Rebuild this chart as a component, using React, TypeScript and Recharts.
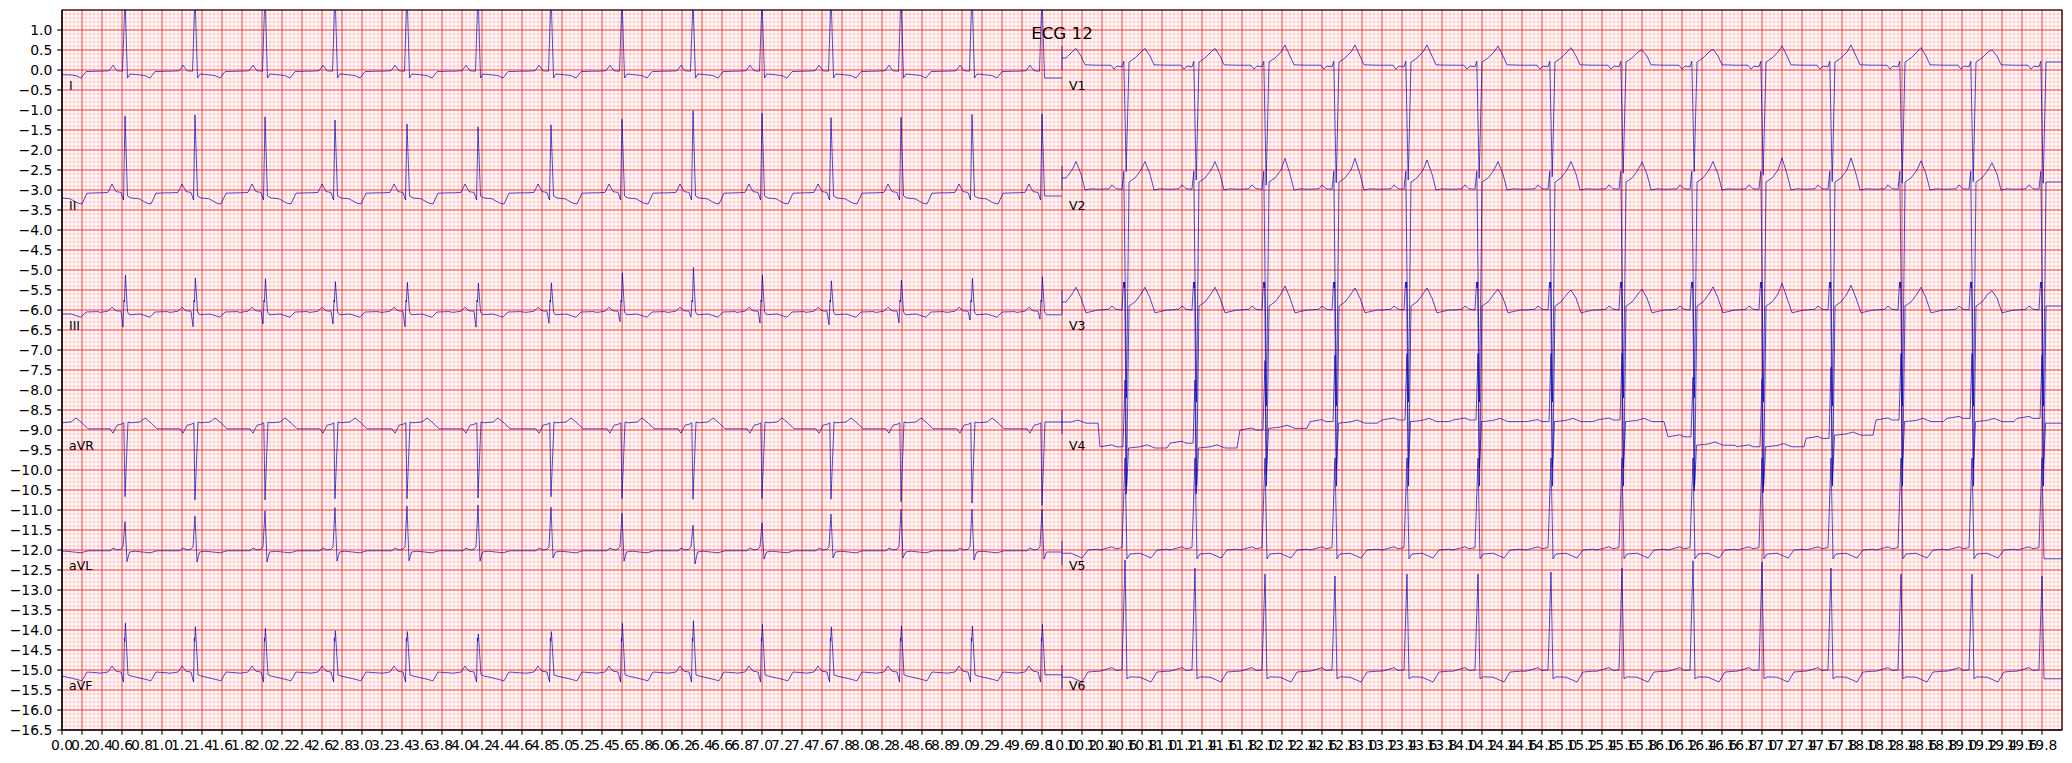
import React from 'react';
import { LineChart, Line, XAxis, YAxis, CartesianGrid, ReferenceDot, ReferenceArea } from 'recharts';

type Knot = [number, number | string];

// ---- layout of the 12 leads (2 columns x 6 rows) ----
const LEAD_NAMES = ['I', 'II', 'III', 'aVR', 'aVL', 'aVF', 'V1', 'V2', 'V3', 'V4', 'V5', 'V6'];
const LEAD_ROW_OFFSETS = [0, -3, -6, -9, -12, -15, 0, -3, -6, -9, -12, -15];
const LEAD_COL_OFFSETS = [0, 0, 0, 0, 0, 0, 10, 10, 10, 10, 10, 10];

// ---- beat timing (seconds, read from R peaks) ----
const BEAT_TIMES = [0.63, 1.33, 2.03, 2.73, 3.45, 4.16, 4.89, 5.6, 6.31, 7.0, 7.69, 8.39, 9.1, 9.8];
const PRE_BEAT_TIME = -0.06;
const LAST_BEAT_TAIL = 0.045;
const SIGNAL_END = 10;

// ---- per-lead beat shapes: [time from R (s), value (mV) or per-beat key] ----
const I_SHAPE: Knot[] = [[-0.25, -0.03], [-0.16, -0.02], [-0.12, 0.12], [-0.08, -0.02], [-0.025, -0.03], [0, 'R'], [0.025, -0.2], [0.05, -0.1], [0.13, -0.12], [0.2, -0.14], [0.25, -0.2], [0.3, -0.04], [0.42, -0.03]];
const I_R = [1.8, 1.9, 1.95, 2.0, 2.0, 2.0, 1.95, 1.85, 1.75, 1.8, 1.9, 1.95, 1.95, 1.95];

const II_SHAPE: Knot[] = [[-0.25, -0.07], [-0.17, -0.06], [-0.13, 0.15], [-0.09, -0.04], [-0.04, -0.06], [-0.015, -0.25], [0, 'R'], [0.025, -0.15], [0.06, -0.2], [0.14, -0.22], [0.22, -0.33], [0.26, -0.35], [0.31, -0.08], [0.42, -0.07]];
const II_R = [1.85, 1.88, 1.83, 1.75, 1.65, 1.58, 1.63, 1.77, 1.98, 1.92, 1.81, 1.82, 1.89, 1.9];

const III_SHAPE: Knot[] = [[-0.25, -0.06], [-0.17, -0.03], [-0.13, 0.07], [-0.09, -0.02], [-0.04, -0.03], [-0.02, 'Q'], [-0.01, 0.25], [-0.006, 0.2], [0.004, 'R'], [0.025, -0.05], [0.045, -0.12], [0.15, -0.1], [0.25, -0.18], [0.3, -0.05], [0.42, -0.04]];
const III_Q = [-0.43, -0.42, -0.35, -0.35, -0.42, -0.43, -0.33, -0.29, -0.18, -0.33, -0.37, -0.32, -0.25, -0.23];
const III_R = [0.87, 0.8, 0.78, 0.71, 0.69, 0.67, 0.68, 0.93, 1.06, 0.87, 0.73, 0.75, 0.79, 0.83];

const AVR_SHAPE: Knot[] = [[-0.25, 0.03], [-0.15, 0.03], [-0.12, -0.08], [-0.08, 0.12], [-0.03, 0.15], [-0.012, 0.18], [0, 'R'], [0.03, 0.2], [0.06, 0.18], [0.15, 0.2], [0.2, 0.3], [0.26, 0.18], [0.32, 0.03], [0.42, 0.03]];
const AVR_R = [-1.67, -1.75, -1.75, -1.72, -1.72, -1.7, -1.67, -1.71, -1.73, -1.71, -1.73, -1.79, -1.83, -1.88];

const AVL_SHAPE: Knot[] = [[-0.25, -0.02], [-0.15, -0.02], [-0.12, 0.05], [-0.08, 0.0], [-0.04, 0.02], [-0.02, 0.08], [0, 'R'], [0.02, 'S'], [0.045, -0.05], [0.1, -0.03], [0.25, -0.07], [0.32, -0.02], [0.42, -0.02]];
const AVL_R = [0.71, 0.85, 0.98, 1.06, 1.1, 1.125, 1.07, 0.92, 0.62, 0.68, 0.9, 1.02, 1.02, 1.02];
const AVL_S = [-0.29, -0.3, -0.3, -0.28, -0.27, -0.28, -0.2, -0.28, -0.35, -0.23, -0.2, -0.2, -0.25, -0.23];

const AVF_SHAPE: Knot[] = [[-0.25, -0.08], [-0.17, -0.05], [-0.13, 0.1], [-0.09, -0.03], [-0.04, -0.05], [-0.015, -0.3], [-0.006, 0.8], [-0.003, 0.72], [0.004, 'R'], [0.03, -0.12], [0.06, -0.15], [0.15, -0.2], [0.26, -0.27], [0.31, -0.05], [0.42, -0.07]];
const AVF_R = [1.17, 1.08, 1.04, 0.98, 0.96, 0.9, 0.96, 1.17, 1.23, 1.14, 1.08, 1.1, 1.1, 1.14];

const V1_SHAPE: Knot[] = [[-0.25, 0.12], [-0.14, 0.12], [-0.11, 0.02], [-0.08, 0.1], [-0.03, 0.08], [-0.012, 0.22], [0.012, 'S'], [0.04, 0.2], [0.1, 0.3], [0.16, 0.45], [0.2, 'T'], [0.25, 0.35], [0.29, 0.13], [0.42, 0.12]];
const V1_S = [-2.54, -2.75, -2.875, -2.82, -2.75, -2.71, -2.67, -2.58, -2.54, -2.63, -2.79, -2.83, -2.79, -2.83];
const V1_T = [0.54, 0.54, 0.625, 0.625, 0.625, 0.6, 0.56, 0.5, 0.52, 0.6, 0.625, 0.56, 0.5, 0.5];

const V2_SHAPE: Knot[] = [[-0.25, 0.02], [-0.16, 0.03], [-0.13, 0.13], [-0.09, 0.03], [-0.03, 0.02], [-0.012, 0.47], [0.015, 'S'], [0.04, 0.2], [0.1, 0.3], [0.16, 0.5], [0.2, 'T'], [0.25, 0.4], [0.29, 0.0], [0.35, 0.03], [0.42, 0.02]];
const V2_S = [-5.2, -5.3, -5.4, -5.4, -5.3, -5.3, -5.3, -5.2, -5.2, -5.3, -5.4, -5.4, -5.4, -5.4];
const V2_T = [0.71, 0.71, 0.79, 0.79, 0.75, 0.71, 0.71, 0.7, 0.71, 0.8, 0.8, 0.73, 0.68, 0.68];

const V3_SHAPE: Knot[] = [[-0.25, 0.0], [-0.16, 0.02], [-0.13, 0.1], [-0.09, 0.02], [-0.03, 0.0], [-0.015, 0.7], [-0.008, 0.55], [-0.003, 0.7], [0.015, -4.4], [0.04, 0.1], [0.1, 0.2], [0.16, 0.4], [0.2, 'T'], [0.25, 0.3], [0.3, -0.07], [0.42, 0.0]];
const V3_T = [0.57, 0.57, 0.6, 0.55, 0.55, 0.52, 0.5, 0.52, 0.58, 0.67, 0.62, 0.57, 0.48, 0.48];

const V4_SHAPE: Knot[] = [[-0.25, 0.0], [-0.13, 0.05], [-0.09, 0.0], [-0.02, 0.0], [0, 1.7], [0.012, -1.15], [0.02, -0.85], [0.035, 0.0], [0.15, 0.03], [0.22, 0.08], [0.3, 0.0], [0.42, 0.0]];
const V4_PRE_BASE = [-0.42, -0.33, 0.0, 0.21, 0.25, 0.25, 0.21, 0.25, -0.17, -0.42, -0.21, 0.25, 0.29, 0.29];
const V4_POST_BASE = [-0.45, -0.45, 0.04, 0.17, 0.21, 0.21, 0.21, 0.21, -0.38, -0.42, -0.13, 0.21, 0.21, 0.17];
const V4_START_BASE = 0.17;

const V5_SHAPE: Knot[] = [[-0.25, 0.0], [-0.13, 0.08], [-0.09, 0.03], [-0.03, 0.06], [0, 2.3], [0.02, -0.22], [0.05, -0.1], [0.15, -0.08], [0.26, -0.2], [0.32, 0.0], [0.42, 0.02]];

const V6_SHAPE: Knot[] = [[-0.25, -0.03], [-0.13, 0.06], [-0.09, -0.01], [-0.03, 0.0], [0, 'R'], [0.02, -0.22], [0.05, -0.17], [0.15, -0.18], [0.26, -0.3], [0.32, -0.05], [0.42, -0.03]];
const V6_R = [2.75, 2.55, 2.4, 2.35, 2.4, 2.4, 2.45, 2.55, 2.73, 2.7, 2.55, 2.4, 2.4, 2.35];

// ---- tick labels ----
const X_MAJOR_TICKS = Array.from({ length: 100 }, (_, i) => Math.round(i * 2) / 10);
const X_MINOR_TICKS = Array.from({ length: 501 }, (_, i) => Math.round(i * 4) / 100);
const Y_MAJOR_TICKS = Array.from({ length: 36 }, (_, i) => -16.5 + i * 0.5);
const Y_MINOR_TICKS = Array.from({ length: 181 }, (_, i) => Math.round((-16.5 + i * 0.1) * 10) / 10);
const X_GRID_MAJOR = Array.from({ length: 101 }, (_, i) => Math.round(i * 2) / 10);
const Y_GRID_MAJOR = Array.from({ length: 37 }, (_, i) => -16.5 + i * 0.5);

const TITLE = 'ECG 12';
const LINE_COLOR = '#0000b3';
const MAJOR_GRID = '#ff0000';
const MINOR_GRID = '#ffb3b3';
const FONT = '"DejaVu Sans", sans-serif';

type Spec = { shape: Knot[]; beats: Record<string, number[]>; pre?: number[]; post?: number[]; startBase?: number };

const LEAD_SPECS: Spec[] = [
  { shape: I_SHAPE, beats: { R: I_R } },
  { shape: II_SHAPE, beats: { R: II_R } },
  { shape: III_SHAPE, beats: { Q: III_Q, R: III_R } },
  { shape: AVR_SHAPE, beats: { R: AVR_R } },
  { shape: AVL_SHAPE, beats: { R: AVL_R, S: AVL_S } },
  { shape: AVF_SHAPE, beats: { R: AVF_R } },
  { shape: V1_SHAPE, beats: { S: V1_S, T: V1_T } },
  { shape: V2_SHAPE, beats: { S: V2_S, T: V2_T } },
  { shape: V3_SHAPE, beats: { T: V3_T } },
  { shape: V4_SHAPE, beats: {}, pre: V4_PRE_BASE, post: V4_POST_BASE, startBase: V4_START_BASE },
  { shape: V5_SHAPE, beats: {} },
  { shape: V6_SHAPE, beats: { R: V6_R } },
];

const r3 = (v: number) => Math.round(v * 1000) / 1000;

function buildLead(spec: Spec, xOff: number, yOff: number) {
  const pts: { x: number; y: number }[] = [];
  const val = (k: Knot, b: number) => (typeof k[1] === 'string' ? spec.beats[k[1]][b] : k[1]);
  const base = (dt: number, b: number) => {
    if (b < 0) return spec.startBase ?? 0;
    if (!spec.pre || !spec.post) return 0;
    return dt < 0 ? spec.pre[b] : spec.post[b];
  };
  for (const k of spec.shape) {
    const t = PRE_BEAT_TIME + k[0];
    if (t < 0) continue;
    const y = r3(yOff + base(k[0], -1) + val(k, 0));
    if (pts.length === 0) pts.push({ x: xOff, y });
    pts.push({ x: r3(xOff + t), y });
  }
  BEAT_TIMES.forEach((bt, b) => {
    const last = b === BEAT_TIMES.length - 1;
    for (const k of spec.shape) {
      if (last && k[0] > LAST_BEAT_TAIL) continue;
      pts.push({ x: r3(xOff + bt + k[0]), y: r3(yOff + base(k[0], b) + val(k, b)) });
    }
  });
  pts.push({ x: xOff + SIGNAL_END, y: pts[pts.length - 1].y });
  return pts;
}

const LEADS = LEAD_NAMES.map((name, i) => {
  const points = buildLead(LEAD_SPECS[i], LEAD_COL_OFFSETS[i], LEAD_ROW_OFFSETS[i]);
  const y0 = points[0].y;
  return {
    name,
    points,
    separator: [
      { x: LEAD_COL_OFFSETS[i], y: r3(y0 - 0.3) },
      { x: LEAD_COL_OFFSETS[i], y: r3(y0 + 0.3) },
    ],
    labelX: LEAD_COL_OFFSETS[i] + 0.07,
    labelY: LEAD_ROW_OFFSETS[i] - 0.5,
  };
});

// anchor series so the minor-tick axes are in use (draws nothing visible)
const MINOR_ANCHOR = [{ x: 0, y: -16.5 }, { x: 20, y: 1.5 }];

const fmt = (v: number) => v.toFixed(1).replace('-', '\u2212');

export default function App() {
  return (
    <div style={{ position: 'absolute', left: 0, top: 0, width: 2072, height: 763, background: '#fff' }}>
      <LineChart width={2072} height={763} margin={{ top: 10, right: 10, bottom: 0, left: 0 }}>
        <XAxis
          xAxisId="minor"
          dataKey="x"
          type="number"
          domain={[0, 20]}
          allowDataOverflow
          ticks={X_MINOR_TICKS}
          interval={0}
          tick={false}
          tickSize={2.78}
          tickLine={{ stroke: '#000', strokeWidth: 0.83 }}
          axisLine={false}
          height={0}
        />
        <XAxis
          xAxisId="major"
          dataKey="x"
          type="number"
          domain={[0, 20]}
          allowDataOverflow
          ticks={X_MAJOR_TICKS}
          interval={0}
          tickFormatter={fmt}
          tickSize={4.86}
          tickMargin={4.86}
          tickLine={{ stroke: '#000', strokeWidth: 1.1 }}
          axisLine={{ stroke: '#000', strokeWidth: 1.1 }}
          tick={{ fontSize: 13.9, fill: '#000', fontFamily: FONT }}
          height={33}
        />
        <YAxis
          yAxisId="minor"
          type="number"
          domain={[-16.5, 1.5]}
          allowDataOverflow
          ticks={Y_MINOR_TICKS}
          interval={0}
          tick={false}
          tickSize={2.78}
          tickLine={{ stroke: '#000', strokeWidth: 0.83 }}
          axisLine={false}
          width={0}
        />
        <YAxis
          yAxisId="major"
          type="number"
          domain={[-16.5, 1.5]}
          allowDataOverflow
          ticks={Y_MAJOR_TICKS}
          interval={0}
          tickFormatter={fmt}
          tickSize={4.86}
          tickMargin={4.86}
          tickLine={{ stroke: '#000', strokeWidth: 1.1 }}
          axisLine={{ stroke: '#000', strokeWidth: 1.1 }}
          tick={{ fontSize: 13.9, fill: '#000', fontFamily: FONT }}
          width={62}
        />
        <CartesianGrid
          xAxisId="major"
          yAxisId="major"
          horizontalValues={Y_MINOR_TICKS}
          verticalValues={X_MINOR_TICKS}
          stroke={MINOR_GRID}
          strokeWidth={0.69}
        />
        <CartesianGrid
          xAxisId="major"
          yAxisId="major"
          horizontalValues={Y_GRID_MAJOR}
          verticalValues={X_GRID_MAJOR}
          stroke={MAJOR_GRID}
          strokeWidth={0.69}
        />
        <Line
          xAxisId="minor"
          yAxisId="minor"
          data={MINOR_ANCHOR}
          dataKey="y"
          stroke="none"
          strokeWidth={0}
          dot={false}
          activeDot={false}
          isAnimationActive={false}
        />
        {LEADS.map((lead) => (
          <Line
            key={lead.name}
            xAxisId="major"
            yAxisId="major"
            data={lead.points}
            dataKey="y"
            type="linear"
            stroke={LINE_COLOR}
            strokeWidth={0.69}
            dot={false}
            activeDot={false}
            isAnimationActive={false}
          />
        ))}
        {LEADS.map((lead) => (
          <Line
            key={'sep-' + lead.name}
            xAxisId="major"
            yAxisId="major"
            data={lead.separator}
            dataKey="y"
            type="linear"
            stroke={LINE_COLOR}
            strokeWidth={0.69}
            dot={false}
            activeDot={false}
            isAnimationActive={false}
          />
        ))}
        {LEADS.map((lead) => (
          <ReferenceDot
            key={'lbl-' + lead.name}
            xAxisId="major"
            yAxisId="major"
            x={lead.labelX}
            y={lead.labelY}
            r={0}
            shape={(p: any) => (
              <text x={p.cx} y={p.cy} fontSize={12.5} fontFamily={FONT} fill="#000">
                {lead.name}
              </text>
            )}
          />
        ))}
        <ReferenceArea
          xAxisId="major"
          yAxisId="major"
          x1={0}
          x2={20}
          y1={-16.5}
          y2={1.5}
          fill="none"
          fillOpacity={0}
          stroke="#000"
          strokeWidth={1.1}
          ifOverflow="visible"
        />
      </LineChart>
      <div
        style={{
          position: 'absolute',
          left: 962,
          top: 24.9,
          width: 200,
          textAlign: 'center',
          fontSize: 16.7,
          lineHeight: 1,
          fontFamily: FONT,
          color: '#000',
          whiteSpace: 'nowrap',
        }}
      >
        {TITLE}
      </div>
    </div>
  );
}
